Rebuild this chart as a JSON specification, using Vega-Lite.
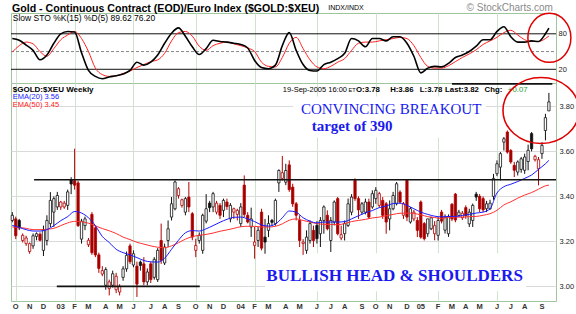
{
"$schema": "https://vega.github.io/schema/vega-lite/v6.json",
"padding": {"left": 8, "top": 2, "right": 0, "bottom": 0},
"background": "white",
"spacing": 0,
"bounds": "flush",
"config": {
  "view": {"stroke": "#9fc59f", "strokeWidth": 1},
  "scale": {"continuousPadding": 0},
  "axis": {"labelFont": "Liberation Sans", "labelFontSize": 7.5, "labelColor": "#222", "gridColor": "#cfe3cf", "gridWidth": 1, "domain": false, "ticks": false, "title": null, "minExtent": 0},
  "text": {"font": "Liberation Sans"}
},
"datasets": {
"months": [
{"date":"2002-10-07","lab":"O"},{"date":"2002-11-04","lab":"N"},{"date":"2002-12-02","lab":"D"},
{"date":"2003-01-06","lab":"03"},{"date":"2003-02-03","lab":"F"},{"date":"2003-03-03","lab":"M"},{"date":"2003-04-07","lab":"A"},{"date":"2003-05-05","lab":"M"},{"date":"2003-06-02","lab":"J"},{"date":"2003-07-07","lab":"J"},{"date":"2003-08-04","lab":"A"},{"date":"2003-09-01","lab":"S"},{"date":"2003-10-06","lab":"O"},{"date":"2003-11-03","lab":"N"},{"date":"2003-12-01","lab":"D"},
{"date":"2004-01-05","lab":"04"},{"date":"2004-02-02","lab":"F"},{"date":"2004-03-01","lab":"M"},{"date":"2004-04-05","lab":"A"},{"date":"2004-05-03","lab":"M"},{"date":"2004-06-07","lab":"J"},{"date":"2004-07-05","lab":"J"},{"date":"2004-08-02","lab":"A"},{"date":"2004-09-06","lab":"S"},{"date":"2004-10-04","lab":"O"},{"date":"2004-11-01","lab":"N"},{"date":"2004-12-06","lab":"D"},
{"date":"2005-01-03","lab":"05"},{"date":"2005-02-07","lab":"F"},{"date":"2005-03-07","lab":"M"},{"date":"2005-04-04","lab":"A"},{"date":"2005-05-02","lab":"M"},{"date":"2005-06-06","lab":"J"},{"date":"2005-07-04","lab":"J"},{"date":"2005-08-01","lab":"A"},{"date":"2005-09-05","lab":"S"}
],
"bars": [
{"date":"2002-09-30","o":3.293,"h":3.33,"l":3.285,"c":3.316},
{"date":"2002-10-07","o":3.3,"h":3.31,"l":3.21,"c":3.225},
{"date":"2002-10-14","o":3.293,"h":3.3,"l":3.25,"c":3.26},
{"date":"2002-10-21","o":3.204,"h":3.235,"l":3.195,"c":3.227},
{"date":"2002-10-28","o":3.19,"h":3.225,"l":3.18,"c":3.215},
{"date":"2002-11-04","o":3.155,"h":3.195,"l":3.145,"c":3.19},
{"date":"2002-11-11","o":3.18,"h":3.235,"l":3.167,"c":3.225},
{"date":"2002-11-18","o":3.222,"h":3.24,"l":3.205,"c":3.234},
{"date":"2002-11-25","o":3.232,"h":3.24,"l":3.2,"c":3.205},
{"date":"2002-12-02","o":3.16,"h":3.27,"l":3.135,"c":3.249},
{"date":"2002-12-09","o":3.204,"h":3.316,"l":3.182,"c":3.293},
{"date":"2002-12-16","o":3.279,"h":3.419,"l":3.263,"c":3.382},
{"date":"2002-12-23","o":3.33,"h":3.4,"l":3.264,"c":3.39},
{"date":"2002-12-30","o":3.353,"h":3.42,"l":3.34,"c":3.404},
{"date":"2003-01-06","o":3.353,"h":3.38,"l":3.34,"c":3.375},
{"date":"2003-01-13","o":3.353,"h":3.38,"l":3.345,"c":3.37},
{"date":"2003-01-20","o":3.36,"h":3.43,"l":3.34,"c":3.42},
{"date":"2003-01-27","o":3.475,"h":3.485,"l":3.41,"c":3.455},
{"date":"2003-02-03","o":3.47,"h":3.612,"l":3.43,"c":3.45},
{"date":"2003-02-10","o":3.46,"h":3.47,"l":3.264,"c":3.27},
{"date":"2003-02-17","o":3.21,"h":3.3,"l":3.19,"c":3.29},
{"date":"2003-02-24","o":3.27,"h":3.31,"l":3.25,"c":3.3},
{"date":"2003-03-03","o":3.185,"h":3.215,"l":3.175,"c":3.205},
{"date":"2003-03-10","o":3.32,"h":3.33,"l":3.14,"c":3.15},
{"date":"2003-03-17","o":3.26,"h":3.27,"l":3.13,"c":3.14},
{"date":"2003-03-24","o":3.14,"h":3.15,"l":3.06,"c":3.08},
{"date":"2003-03-31","o":3.055,"h":3.09,"l":3.045,"c":3.07},
{"date":"2003-04-07","o":3.005,"h":3.085,"l":2.985,"c":3.075},
{"date":"2003-04-14","o":2.99,"h":3.03,"l":2.96,"c":3.02},
{"date":"2003-04-21","o":3.005,"h":3.07,"l":2.995,"c":3.056},
{"date":"2003-04-28","o":2.985,"h":3.06,"l":2.97,"c":3.045},
{"date":"2003-05-05","o":2.975,"h":3.01,"l":2.96,"c":3.0},
{"date":"2003-05-12","o":3.04,"h":3.09,"l":3.025,"c":3.078},
{"date":"2003-05-19","o":3.078,"h":3.155,"l":3.065,"c":3.138},
{"date":"2003-05-26","o":3.18,"h":3.19,"l":3.1,"c":3.11},
{"date":"2003-06-02","o":3.095,"h":3.16,"l":3.085,"c":3.145},
{"date":"2003-06-09","o":3.09,"h":3.11,"l":2.953,"c":3.01},
{"date":"2003-06-16","o":3.108,"h":3.115,"l":3.07,"c":3.093},
{"date":"2003-06-23","o":3.1,"h":3.13,"l":3.005,"c":3.02},
{"date":"2003-06-30","o":3.02,"h":3.08,"l":3.005,"c":3.064},
{"date":"2003-07-07","o":3.1,"h":3.11,"l":3.015,"c":3.03},
{"date":"2003-07-14","o":3.04,"h":3.13,"l":3.03,"c":3.12},
{"date":"2003-07-21","o":3.03,"h":3.17,"l":3.02,"c":3.16},
{"date":"2003-07-28","o":3.204,"h":3.279,"l":3.1,"c":3.116},
{"date":"2003-08-04","o":3.104,"h":3.19,"l":3.095,"c":3.175},
{"date":"2003-08-11","o":3.204,"h":3.293,"l":3.175,"c":3.256},
{"date":"2003-08-18","o":3.308,"h":3.397,"l":3.293,"c":3.367},
{"date":"2003-08-25","o":3.345,"h":3.471,"l":3.338,"c":3.464},
{"date":"2003-09-01","o":3.404,"h":3.441,"l":3.39,"c":3.434},
{"date":"2003-09-08","o":3.36,"h":3.39,"l":3.35,"c":3.385},
{"date":"2003-09-15","o":3.33,"h":3.397,"l":3.316,"c":3.39},
{"date":"2003-09-22","o":3.397,"h":3.464,"l":3.33,"c":3.353},
{"date":"2003-09-29","o":3.323,"h":3.33,"l":3.205,"c":3.219},
{"date":"2003-10-06","o":3.16,"h":3.212,"l":3.13,"c":3.182},
{"date":"2003-10-13","o":3.204,"h":3.24,"l":3.19,"c":3.227},
{"date":"2003-10-20","o":3.16,"h":3.323,"l":3.145,"c":3.316},
{"date":"2003-10-27","o":3.29,"h":3.41,"l":3.28,"c":3.345},
{"date":"2003-11-03","o":3.37,"h":3.38,"l":3.33,"c":3.35},
{"date":"2003-11-10","o":3.353,"h":3.42,"l":3.33,"c":3.412},
{"date":"2003-11-17","o":3.33,"h":3.38,"l":3.32,"c":3.37},
{"date":"2003-11-24","o":3.36,"h":3.37,"l":3.3,"c":3.316},
{"date":"2003-12-01","o":3.338,"h":3.39,"l":3.308,"c":3.382},
{"date":"2003-12-08","o":3.375,"h":3.39,"l":3.34,"c":3.355},
{"date":"2003-12-15","o":3.3,"h":3.37,"l":3.285,"c":3.36},
{"date":"2003-12-22","o":3.33,"h":3.35,"l":3.3,"c":3.345},
{"date":"2003-12-29","o":3.32,"h":3.345,"l":3.293,"c":3.338},
{"date":"2004-01-05","o":3.279,"h":3.37,"l":3.264,"c":3.353},
{"date":"2004-01-12","o":3.45,"h":3.493,"l":3.308,"c":3.32},
{"date":"2004-01-19","o":3.316,"h":3.33,"l":3.28,"c":3.286},
{"date":"2004-01-26","o":3.264,"h":3.35,"l":3.22,"c":3.3},
{"date":"2004-02-02","o":3.182,"h":3.264,"l":3.123,"c":3.197},
{"date":"2004-02-09","o":3.204,"h":3.264,"l":3.175,"c":3.249},
{"date":"2004-02-16","o":3.33,"h":3.345,"l":3.16,"c":3.17},
{"date":"2004-02-23","o":3.219,"h":3.3,"l":3.145,"c":3.197},
{"date":"2004-03-01","o":3.249,"h":3.316,"l":3.219,"c":3.279},
{"date":"2004-03-08","o":3.293,"h":3.3,"l":3.27,"c":3.285},
{"date":"2004-03-15","o":3.279,"h":3.39,"l":3.27,"c":3.382},
{"date":"2004-03-22","o":3.46,"h":3.52,"l":3.42,"c":3.515},
{"date":"2004-03-29","o":3.48,"h":3.58,"l":3.47,"c":3.505},
{"date":"2004-04-05","o":3.463,"h":3.545,"l":3.45,"c":3.515},
{"date":"2004-04-12","o":3.54,"h":3.56,"l":3.42,"c":3.43},
{"date":"2004-04-19","o":3.441,"h":3.456,"l":3.353,"c":3.367},
{"date":"2004-04-26","o":3.367,"h":3.375,"l":3.293,"c":3.316},
{"date":"2004-05-03","o":3.293,"h":3.316,"l":3.175,"c":3.204},
{"date":"2004-05-10","o":3.19,"h":3.21,"l":3.14,"c":3.197},
{"date":"2004-05-17","o":3.16,"h":3.249,"l":3.145,"c":3.219},
{"date":"2004-05-24","o":3.204,"h":3.293,"l":3.19,"c":3.279},
{"date":"2004-05-31","o":3.249,"h":3.27,"l":3.175,"c":3.204},
{"date":"2004-06-07","o":3.271,"h":3.29,"l":3.19,"c":3.212},
{"date":"2004-06-14","o":3.234,"h":3.308,"l":3.175,"c":3.293},
{"date":"2004-06-21","o":3.293,"h":3.36,"l":3.234,"c":3.353},
{"date":"2004-06-28","o":3.316,"h":3.338,"l":3.249,"c":3.256},
{"date":"2004-07-05","o":3.204,"h":3.308,"l":3.153,"c":3.293},
{"date":"2004-07-12","o":3.286,"h":3.382,"l":3.271,"c":3.375},
{"date":"2004-07-19","o":3.39,"h":3.397,"l":3.227,"c":3.234},
{"date":"2004-07-26","o":3.215,"h":3.27,"l":3.205,"c":3.23},
{"date":"2004-08-02","o":3.234,"h":3.293,"l":3.204,"c":3.279},
{"date":"2004-08-09","o":3.271,"h":3.39,"l":3.264,"c":3.367},
{"date":"2004-08-16","o":3.33,"h":3.41,"l":3.316,"c":3.397},
{"date":"2004-08-23","o":3.471,"h":3.48,"l":3.38,"c":3.39},
{"date":"2004-08-30","o":3.39,"h":3.4,"l":3.3,"c":3.34},
{"date":"2004-09-06","o":3.33,"h":3.375,"l":3.32,"c":3.367},
{"date":"2004-09-13","o":3.33,"h":3.39,"l":3.32,"c":3.375},
{"date":"2004-09-20","o":3.375,"h":3.39,"l":3.3,"c":3.308},
{"date":"2004-09-27","o":3.353,"h":3.427,"l":3.345,"c":3.412},
{"date":"2004-10-04","o":3.39,"h":3.441,"l":3.367,"c":3.427},
{"date":"2004-10-11","o":3.36,"h":3.42,"l":3.35,"c":3.412},
{"date":"2004-10-18","o":3.382,"h":3.397,"l":3.3,"c":3.316},
{"date":"2004-10-25","o":3.367,"h":3.375,"l":3.234,"c":3.286},
{"date":"2004-11-01","o":3.3,"h":3.382,"l":3.249,"c":3.345},
{"date":"2004-11-08","o":3.345,"h":3.42,"l":3.338,"c":3.404},
{"date":"2004-11-15","o":3.367,"h":3.464,"l":3.36,"c":3.456},
{"date":"2004-11-22","o":3.419,"h":3.427,"l":3.367,"c":3.375},
{"date":"2004-11-29","o":3.316,"h":3.375,"l":3.3,"c":3.367},
{"date":"2004-12-06","o":3.471,"h":3.475,"l":3.29,"c":3.308},
{"date":"2004-12-13","o":3.286,"h":3.353,"l":3.279,"c":3.345},
{"date":"2004-12-20","o":3.3,"h":3.34,"l":3.29,"c":3.33},
{"date":"2004-12-27","o":3.293,"h":3.308,"l":3.219,"c":3.249},
{"date":"2005-01-03","o":3.375,"h":3.382,"l":3.212,"c":3.219},
{"date":"2005-01-10","o":3.279,"h":3.286,"l":3.204,"c":3.212},
{"date":"2005-01-17","o":3.234,"h":3.3,"l":3.22,"c":3.3},
{"date":"2005-01-24","o":3.256,"h":3.31,"l":3.25,"c":3.305},
{"date":"2005-01-31","o":3.234,"h":3.29,"l":3.205,"c":3.27},
{"date":"2005-02-07","o":3.227,"h":3.308,"l":3.204,"c":3.293},
{"date":"2005-02-14","o":3.33,"h":3.34,"l":3.28,"c":3.29},
{"date":"2005-02-21","o":3.25,"h":3.32,"l":3.235,"c":3.308},
{"date":"2005-02-28","o":3.234,"h":3.32,"l":3.22,"c":3.31},
{"date":"2005-03-07","o":3.365,"h":3.37,"l":3.29,"c":3.3},
{"date":"2005-03-14","o":3.41,"h":3.415,"l":3.285,"c":3.295},
{"date":"2005-03-21","o":3.315,"h":3.34,"l":3.31,"c":3.33},
{"date":"2005-03-28","o":3.305,"h":3.335,"l":3.295,"c":3.325},
{"date":"2005-04-04","o":3.35,"h":3.36,"l":3.3,"c":3.315},
{"date":"2005-04-11","o":3.278,"h":3.345,"l":3.264,"c":3.33},
{"date":"2005-04-18","o":3.293,"h":3.368,"l":3.264,"c":3.36},
{"date":"2005-04-25","o":3.41,"h":3.42,"l":3.38,"c":3.397},
{"date":"2005-05-02","o":3.4,"h":3.41,"l":3.33,"c":3.345},
{"date":"2005-05-09","o":3.39,"h":3.4,"l":3.33,"c":3.34},
{"date":"2005-05-16","o":3.345,"h":3.38,"l":3.33,"c":3.367},
{"date":"2005-05-23","o":3.345,"h":3.385,"l":3.34,"c":3.37},
{"date":"2005-05-30","o":3.4,"h":3.5,"l":3.385,"c":3.48},
{"date":"2005-06-06","o":3.501,"h":3.56,"l":3.49,"c":3.545},
{"date":"2005-06-13","o":3.53,"h":3.597,"l":3.471,"c":3.59},
{"date":"2005-06-20","o":3.641,"h":3.664,"l":3.604,"c":3.656},
{"date":"2005-06-27","o":3.686,"h":3.693,"l":3.59,"c":3.597},
{"date":"2005-07-04","o":3.604,"h":3.61,"l":3.545,"c":3.553},
{"date":"2005-07-11","o":3.538,"h":3.553,"l":3.486,"c":3.516},
{"date":"2005-07-18","o":3.508,"h":3.56,"l":3.493,"c":3.553},
{"date":"2005-07-25","o":3.52,"h":3.575,"l":3.505,"c":3.567},
{"date":"2005-08-01","o":3.516,"h":3.59,"l":3.5,"c":3.575},
{"date":"2005-08-08","o":3.555,"h":3.63,"l":3.516,"c":3.605},
{"date":"2005-08-15","o":3.679,"h":3.686,"l":3.6,"c":3.612},
{"date":"2005-08-22","o":3.563,"h":3.585,"l":3.555,"c":3.578},
{"date":"2005-08-29","o":3.523,"h":3.575,"l":3.449,"c":3.563},
{"date":"2005-09-05","o":3.59,"h":3.641,"l":3.567,"c":3.627},
{"date":"2005-09-12","o":3.693,"h":3.767,"l":3.649,"c":3.75},
{"date":"2005-09-19","o":3.78,"h":3.86,"l":3.78,"c":3.82}
],
"ind": [
{"date":"2002-09-30","ema20":3.271,"ema50":3.264,"k":72,"d":49},
{"date":"2002-10-14","ema20":3.262,"ema50":3.262,"k":69,"d":60},
{"date":"2002-10-28","ema20":3.252,"ema50":3.258,"k":61,"d":66},
{"date":"2002-11-11","ema20":3.246,"ema50":3.252,"k":52,"d":63},
{"date":"2002-11-25","ema20":3.246,"ema50":3.252,"k":36,"d":50},
{"date":"2002-12-09","ema20":3.252,"ema50":3.254,"k":44,"d":42},
{"date":"2002-12-23","ema20":3.27,"ema50":3.258,"k":64,"d":55},
{"date":"2003-01-06","ema20":3.292,"ema50":3.27,"k":80,"d":70},
{"date":"2003-01-20","ema20":3.31,"ema50":3.282,"k":84,"d":78},
{"date":"2003-02-03","ema20":3.333,"ema50":3.289,"k":83,"d":84},
{"date":"2003-02-17","ema20":3.326,"ema50":3.287,"k":48,"d":72},
{"date":"2003-03-03","ema20":3.305,"ema50":3.281,"k":18,"d":50},
{"date":"2003-03-17","ema20":3.27,"ema50":3.269,"k":8,"d":22},
{"date":"2003-03-31","ema20":3.222,"ema50":3.257,"k":4,"d":11},
{"date":"2003-04-14","ema20":3.195,"ema50":3.247,"k":7,"d":8},
{"date":"2003-04-28","ema20":3.165,"ema50":3.235,"k":9,"d":9},
{"date":"2003-05-12","ema20":3.15,"ema50":3.219,"k":12,"d":13},
{"date":"2003-05-26","ema20":3.14,"ema50":3.208,"k":18,"d":17},
{"date":"2003-06-09","ema20":3.128,"ema50":3.196,"k":32,"d":23},
{"date":"2003-06-23","ema20":3.115,"ema50":3.188,"k":27,"d":28},
{"date":"2003-07-07","ema20":3.109,"ema50":3.18,"k":32,"d":33},
{"date":"2003-07-21","ema20":3.108,"ema50":3.174,"k":44,"d":36},
{"date":"2003-08-04","ema20":3.125,"ema50":3.172,"k":64,"d":47},
{"date":"2003-08-18","ema20":3.165,"ema50":3.18,"k":81,"d":68},
{"date":"2003-09-01","ema20":3.205,"ema50":3.194,"k":90,"d":82},
{"date":"2003-09-15","ema20":3.238,"ema50":3.21,"k":76,"d":84},
{"date":"2003-09-29","ema20":3.248,"ema50":3.221,"k":58,"d":76},
{"date":"2003-10-13","ema20":3.246,"ema50":3.227,"k":45,"d":59},
{"date":"2003-10-27","ema20":3.256,"ema50":3.231,"k":55,"d":52},
{"date":"2003-11-10","ema20":3.27,"ema50":3.237,"k":69,"d":60},
{"date":"2003-11-24","ema20":3.285,"ema50":3.245,"k":67,"d":64},
{"date":"2003-12-08","ema20":3.298,"ema50":3.251,"k":66,"d":66},
{"date":"2003-12-22","ema20":3.307,"ema50":3.258,"k":64,"d":63},
{"date":"2004-01-05","ema20":3.308,"ema50":3.265,"k":62,"d":60},
{"date":"2004-01-19","ema20":3.3,"ema50":3.267,"k":56,"d":56},
{"date":"2004-02-02","ema20":3.288,"ema50":3.267,"k":35,"d":50},
{"date":"2004-02-16","ema20":3.273,"ema50":3.264,"k":23,"d":32},
{"date":"2004-03-01","ema20":3.268,"ema50":3.264,"k":21,"d":25},
{"date":"2004-03-15","ema20":3.277,"ema50":3.267,"k":27,"d":24},
{"date":"2004-03-29","ema20":3.305,"ema50":3.278,"k":60,"d":40},
{"date":"2004-04-12","ema20":3.335,"ema50":3.294,"k":82,"d":64},
{"date":"2004-04-26","ema20":3.33,"ema50":3.3,"k":52,"d":74},
{"date":"2004-05-10","ema20":3.305,"ema50":3.293,"k":28,"d":55},
{"date":"2004-05-24","ema20":3.29,"ema50":3.286,"k":18,"d":36},
{"date":"2004-06-07","ema20":3.282,"ema50":3.279,"k":17,"d":24},
{"date":"2004-06-21","ema20":3.286,"ema50":3.276,"k":28,"d":21},
{"date":"2004-07-05","ema20":3.286,"ema50":3.275,"k":32,"d":25},
{"date":"2004-07-19","ema20":3.286,"ema50":3.274,"k":38,"d":32},
{"date":"2004-08-02","ema20":3.288,"ema50":3.279,"k":47,"d":38},
{"date":"2004-08-16","ema20":3.3,"ema50":3.288,"k":72,"d":52},
{"date":"2004-08-30","ema20":3.314,"ema50":3.293,"k":68,"d":64},
{"date":"2004-09-13","ema20":3.327,"ema50":3.298,"k":58,"d":66},
{"date":"2004-09-27","ema20":3.337,"ema50":3.304,"k":72,"d":66},
{"date":"2004-10-11","ema20":3.35,"ema50":3.308,"k":72,"d":68},
{"date":"2004-10-25","ema20":3.357,"ema50":3.314,"k":68,"d":70},
{"date":"2004-11-08","ema20":3.368,"ema50":3.32,"k":75,"d":72},
{"date":"2004-11-22","ema20":3.37,"ema50":3.325,"k":75,"d":74},
{"date":"2004-12-06","ema20":3.36,"ema50":3.326,"k":64,"d":72},
{"date":"2004-12-20","ema20":3.345,"ema50":3.324,"k":42,"d":60},
{"date":"2005-01-03","ema20":3.33,"ema50":3.318,"k":14,"d":40},
{"date":"2005-01-17","ema20":3.32,"ema50":3.31,"k":22,"d":25},
{"date":"2005-01-31","ema20":3.312,"ema50":3.306,"k":25,"d":22},
{"date":"2005-02-14","ema20":3.309,"ema50":3.302,"k":24,"d":22},
{"date":"2005-02-28","ema20":3.311,"ema50":3.306,"k":30,"d":26},
{"date":"2005-03-14","ema20":3.311,"ema50":3.308,"k":40,"d":33},
{"date":"2005-03-28","ema20":3.315,"ema50":3.308,"k":44,"d":40},
{"date":"2005-04-11","ema20":3.32,"ema50":3.31,"k":50,"d":46},
{"date":"2005-04-25","ema20":3.326,"ema50":3.311,"k":59,"d":53},
{"date":"2005-05-09","ema20":3.33,"ema50":3.316,"k":70,"d":62},
{"date":"2005-05-23","ema20":3.345,"ema50":3.323,"k":70,"d":68},
{"date":"2005-06-06","ema20":3.415,"ema50":3.338,"k":84,"d":74},
{"date":"2005-06-20","ema20":3.443,"ema50":3.362,"k":92,"d":82},
{"date":"2005-07-04","ema20":3.454,"ema50":3.376,"k":75,"d":86},
{"date":"2005-07-18","ema20":3.466,"ema50":3.392,"k":66,"d":78},
{"date":"2005-08-01","ema20":3.48,"ema50":3.406,"k":66,"d":70},
{"date":"2005-08-15","ema20":3.495,"ema50":3.417,"k":68,"d":67},
{"date":"2005-08-29","ema20":3.52,"ema50":3.432,"k":67,"d":67},
{"date":"2005-09-12","ema20":3.545,"ema50":3.447,"k":80,"d":72},
{"date":"2005-09-19","ema20":3.56,"ema50":3.45,"k":89.62,"d":76.2}
]
},
"vconcat": [
{
  "width": 545, "height": 70,
  "layer": [
    {"data": {"values": [{"date": "2002-09-27T09:00:00Z", "date2": "2005-10-03T09:00:00Z", "v": 80}, {"date": "2002-09-27T09:00:00Z", "date2": "2005-10-03T09:00:00Z", "v": 20}]},
     "mark": {"type": "rule", "color": "#111", "strokeWidth": 1},
     "encoding": {
       "x": {"field": "date", "type": "temporal", "scale": {"type": "utc", "padding": 0, "domain": [{"year": 2002, "month": "sep", "date": 27, "hours": 9, "utc": true}, {"year": 2005, "month": "oct", "date": 3, "hours": 9, "utc": true}]},
             "axis": {"values": [
               {"year":2002,"month":"oct","date":7,"utc":true},{"year":2002,"month":"nov","date":4,"utc":true},{"year":2002,"month":"dec","date":2,"utc":true},
               {"year":2003,"month":"jan","date":6,"utc":true},{"year":2003,"month":"feb","date":3,"utc":true},{"year":2003,"month":"mar","date":3,"utc":true},{"year":2003,"month":"apr","date":7,"utc":true},{"year":2003,"month":"may","date":5,"utc":true},{"year":2003,"month":"jun","date":2,"utc":true},{"year":2003,"month":"jul","date":7,"utc":true},{"year":2003,"month":"aug","date":4,"utc":true},{"year":2003,"month":"sep","date":1,"utc":true},{"year":2003,"month":"oct","date":6,"utc":true},{"year":2003,"month":"nov","date":3,"utc":true},{"year":2003,"month":"dec","date":1,"utc":true},
               {"year":2004,"month":"jan","date":5,"utc":true},{"year":2004,"month":"feb","date":2,"utc":true},{"year":2004,"month":"mar","date":1,"utc":true},{"year":2004,"month":"apr","date":5,"utc":true},{"year":2004,"month":"may","date":3,"utc":true},{"year":2004,"month":"jun","date":7,"utc":true},{"year":2004,"month":"jul","date":5,"utc":true},{"year":2004,"month":"aug","date":2,"utc":true},{"year":2004,"month":"sep","date":6,"utc":true},{"year":2004,"month":"oct","date":4,"utc":true},{"year":2004,"month":"nov","date":1,"utc":true},{"year":2004,"month":"dec","date":6,"utc":true},
               {"year":2005,"month":"jan","date":3,"utc":true},{"year":2005,"month":"feb","date":7,"utc":true},{"year":2005,"month":"mar","date":7,"utc":true},{"year":2005,"month":"apr","date":4,"utc":true},{"year":2005,"month":"may","date":2,"utc":true},{"year":2005,"month":"jun","date":6,"utc":true},{"year":2005,"month":"jul","date":4,"utc":true},{"year":2005,"month":"aug","date":1,"utc":true},{"year":2005,"month":"sep","date":5,"utc":true}],
               "grid": true, "gridColor": "#cfe3cf", "labels": false, "ticks": false, "domain": false, "title": null}},
       "x2": {"field": "date2"},
       "y": {"field": "v", "type": "quantitative", "scale": {"domain": [-3.2, 115.2], "nice": false, "zero": false, "padding": 0},
             "axis": {"orient": "right", "values": [80, 50, 20], "grid": false, "labelPadding": 2, "labelFontSize": 7.5, "ticks": false, "domain": false, "title": null}}
     }},
    {"data": {"values": [{"date": "2002-09-27T09:00:00Z", "date2": "2005-10-03T09:00:00Z", "v": 50}]},
     "mark": {"type": "rule", "color": "#888", "strokeWidth": 1, "strokeDash": [3, 2]},
     "encoding": {
       "x": {"field": "date", "type": "temporal", "scale": {"type": "utc", "padding": 0, "domain": [{"year": 2002, "month": "sep", "date": 27, "hours": 9, "utc": true}, {"year": 2005, "month": "oct", "date": 3, "hours": 9, "utc": true}]}},
       "x2": {"field": "date2"},
       "y": {"field": "v", "type": "quantitative", "scale": {"domain": [-3.2, 115.2], "nice": false, "zero": false, "padding": 0}}
     }},
    {"data": {"name": "ind"},
     "mark": {"type": "line", "color": "#ff2020", "strokeWidth": 1, "interpolate": "monotone"},
     "encoding": {
       "x": {"field": "date", "type": "temporal", "scale": {"type": "utc", "padding": 0, "domain": [{"year": 2002, "month": "sep", "date": 27, "hours": 9, "utc": true}, {"year": 2005, "month": "oct", "date": 3, "hours": 9, "utc": true}]}},
       "y": {"field": "d", "type": "quantitative", "scale": {"domain": [-3.2, 115.2], "nice": false, "zero": false, "padding": 0}}
     }},
    {"data": {"name": "ind"},
     "mark": {"type": "line", "color": "#000", "strokeWidth": 1.6, "interpolate": "monotone"},
     "encoding": {
       "x": {"field": "date", "type": "temporal", "scale": {"type": "utc", "padding": 0, "domain": [{"year": 2002, "month": "sep", "date": 27, "hours": 9, "utc": true}, {"year": 2005, "month": "oct", "date": 3, "hours": 9, "utc": true}]}},
       "y": {"field": "k", "type": "quantitative", "scale": {"domain": [-3.2, 115.2], "nice": false, "zero": false, "padding": 0}}
     }},
    {"data": {"values": [{"date": "2002-09-29T09:00:00Z", "v": 116.8, "t": "Gold - Continuous Contract (EOD)/Euro Index ($GOLD:$XEU)"}]},
     "mark": {"type": "text", "align": "left", "baseline": "alphabetic", "font": "Liberation Sans", "fontSize": 10.6, "fontWeight": "bold", "color": "#000"},
     "encoding": {
       "x": {"field": "date", "type": "temporal", "scale": {"type": "utc", "padding": 0, "domain": [{"year": 2002, "month": "sep", "date": 27, "hours": 9, "utc": true}, {"year": 2005, "month": "oct", "date": 3, "hours": 9, "utc": true}]}},
       "y": {"field": "v", "type": "quantitative", "scale": {"domain": [-3.2, 115.2], "nice": false, "zero": false, "padding": 0}},
       "text": {"field": "t"}
     }},
    {"data": {"values": [{"date": "2002-10-01", "v": 107, "t": "Slow STO %K(15) %D(5) 89.62  76.20"}]},
     "mark": {"type": "text", "align": "left", "baseline": "middle", "font": "Liberation Sans", "fontSize": 8.5, "color": "#000"},
     "encoding": {
       "x": {"field": "date", "type": "temporal", "scale": {"type": "utc", "padding": 0, "domain": [{"year": 2002, "month": "sep", "date": 27, "hours": 9, "utc": true}, {"year": 2005, "month": "oct", "date": 3, "hours": 9, "utc": true}]}},
       "y": {"field": "v", "type": "quantitative", "scale": {"domain": [-3.2, 115.2], "nice": false, "zero": false, "padding": 0}},
       "text": {"field": "t"}
     }},
    {"data": {"values": [{"date": "2004-06-30", "v": 123.1, "t": "INDX/INDX"}]},
     "mark": {"type": "text", "align": "left", "baseline": "middle", "font": "Liberation Sans", "fontSize": 7, "color": "#000"},
     "encoding": {
       "x": {"field": "date", "type": "temporal", "scale": {"type": "utc", "padding": 0, "domain": [{"year": 2002, "month": "sep", "date": 27, "hours": 9, "utc": true}, {"year": 2005, "month": "oct", "date": 3, "hours": 9, "utc": true}]}},
       "y": {"field": "v", "type": "quantitative", "scale": {"domain": [-3.2, 115.2], "nice": false, "zero": false, "padding": 0}},
       "text": {"field": "t"}
     }},
    {"data": {"values": [{"date": "2005-09-27", "v": 124.3, "t": "© StockCharts.com"}]},
     "mark": {"type": "text", "align": "right", "baseline": "middle", "font": "Liberation Sans", "fontSize": 10, "color": "#8a8a8a"},
     "encoding": {
       "x": {"field": "date", "type": "temporal", "scale": {"type": "utc", "padding": 0, "domain": [{"year": 2002, "month": "sep", "date": 27, "hours": 9, "utc": true}, {"year": 2005, "month": "oct", "date": 3, "hours": 9, "utc": true}]}},
       "y": {"field": "v", "type": "quantitative", "scale": {"domain": [-3.2, 115.2], "nice": false, "zero": false, "padding": 0}},
       "text": {"field": "t"}
     }},
    {"data": {"values": [{"date": "2005-09-20", "v": 73.2}]},
     "mark": {"type": "point", "filled": false, "color": "#e00000", "strokeWidth": 1.5, "size": 2401, "opacity": 1,
              "shape": "M -0.878 0 C -0.878 -0.552 -0.485 -1 0 -1 C 0.485 -1 0.878 -0.552 0.878 0 C 0.878 0.552 0.485 1 0 1 C -0.485 1 -0.878 0.552 -0.878 0 Z"},
     "encoding": {
       "x": {"field": "date", "type": "temporal", "scale": {"type": "utc", "padding": 0, "domain": [{"year": 2002, "month": "sep", "date": 27, "hours": 9, "utc": true}, {"year": 2005, "month": "oct", "date": 3, "hours": 9, "utc": true}]}},
       "y": {"field": "v", "type": "quantitative", "scale": {"domain": [-3.2, 115.2], "nice": false, "zero": false, "padding": 0}}
     }}
  ]
},
{
  "width": 545, "height": 218,
  "layer": [
    {"data": {"values": [{"date": "2004-04-20", "date2": "2005-05-15", "v": 3.662, "v2": 3.844}, {"date": "2004-02-23", "date2": "2005-08-04", "v": 2.978, "v2": 3.147}]},
     "mark": {"type": "rect", "fill": "#ffffff"},
     "encoding": {
       "x": {"field": "date", "type": "temporal", "scale": {"type": "utc", "padding": 0, "domain": [{"year": 2002, "month": "sep", "date": 27, "hours": 9, "utc": true}, {"year": 2005, "month": "oct", "date": 3, "hours": 9, "utc": true}]},
             "axis": {"values": [
               {"year":2002,"month":"oct","date":7,"utc":true},{"year":2002,"month":"nov","date":4,"utc":true},{"year":2002,"month":"dec","date":2,"utc":true},
               {"year":2003,"month":"jan","date":6,"utc":true},{"year":2003,"month":"feb","date":3,"utc":true},{"year":2003,"month":"mar","date":3,"utc":true},{"year":2003,"month":"apr","date":7,"utc":true},{"year":2003,"month":"may","date":5,"utc":true},{"year":2003,"month":"jun","date":2,"utc":true},{"year":2003,"month":"jul","date":7,"utc":true},{"year":2003,"month":"aug","date":4,"utc":true},{"year":2003,"month":"sep","date":1,"utc":true},{"year":2003,"month":"oct","date":6,"utc":true},{"year":2003,"month":"nov","date":3,"utc":true},{"year":2003,"month":"dec","date":1,"utc":true},
               {"year":2004,"month":"jan","date":5,"utc":true},{"year":2004,"month":"feb","date":2,"utc":true},{"year":2004,"month":"mar","date":1,"utc":true},{"year":2004,"month":"apr","date":5,"utc":true},{"year":2004,"month":"may","date":3,"utc":true},{"year":2004,"month":"jun","date":7,"utc":true},{"year":2004,"month":"jul","date":5,"utc":true},{"year":2004,"month":"aug","date":2,"utc":true},{"year":2004,"month":"sep","date":6,"utc":true},{"year":2004,"month":"oct","date":4,"utc":true},{"year":2004,"month":"nov","date":1,"utc":true},{"year":2004,"month":"dec","date":6,"utc":true},
               {"year":2005,"month":"jan","date":3,"utc":true},{"year":2005,"month":"feb","date":7,"utc":true},{"year":2005,"month":"mar","date":7,"utc":true},{"year":2005,"month":"apr","date":4,"utc":true},{"year":2005,"month":"may","date":2,"utc":true},{"year":2005,"month":"jun","date":6,"utc":true},{"year":2005,"month":"jul","date":4,"utc":true},{"year":2005,"month":"aug","date":1,"utc":true},{"year":2005,"month":"sep","date":5,"utc":true}],
               "grid": true, "gridColor": "#cfe3cf", "labels": false, "ticks": false, "domain": false, "title": null}},
       "x2": {"field": "date2"},
       "y": {"field": "v", "type": "quantitative", "scale": {"domain": [2.935, 3.904], "nice": false, "zero": false, "padding": 0},
             "axis": {"orient": "right", "values": [3.0, 3.2, 3.4, 3.6, 3.8], "format": ".2f", "grid": true, "gridColor": "#dadada", "labelPadding": 3, "labelFontSize": 7.5, "ticks": false, "domain": false, "title": null}},
       "y2": {"field": "v2"}
     }},
    {"data": {"name": "bars"},
     "transform": [{"window": [{"op": "lag", "field": "c", "as": "pc"}], "sort": [{"field": "date", "order": "ascending"}]}],
     "layer": [
       {"mark": {"type": "rule", "strokeWidth": 1},
        "encoding": {
          "x": {"field": "date", "type": "temporal", "scale": {"type": "utc", "padding": 0, "domain": [{"year": 2002, "month": "sep", "date": 27, "hours": 9, "utc": true}, {"year": 2005, "month": "oct", "date": 3, "hours": 9, "utc": true}]}},
          "y": {"field": "l", "type": "quantitative", "scale": {"domain": [2.935, 3.904], "nice": false, "zero": false, "padding": 0}},
          "y2": {"field": "h"},
          "stroke": {"condition": {"test": "datum.c >= datum.pc", "value": "#111111"}, "value": "#b30000"}
        }},
       {"mark": {"type": "bar", "width": 2.3, "strokeWidth": 0.8},
        "encoding": {
          "x": {"field": "date", "type": "temporal", "scale": {"type": "utc", "padding": 0, "domain": [{"year": 2002, "month": "sep", "date": 27, "hours": 9, "utc": true}, {"year": 2005, "month": "oct", "date": 3, "hours": 9, "utc": true}]}},
          "y": {"field": "o", "type": "quantitative", "scale": {"domain": [2.935, 3.904], "nice": false, "zero": false, "padding": 0}},
          "y2": {"field": "c"},
          "stroke": {"condition": {"test": "datum.c >= datum.pc", "value": "#111111"}, "value": "#b30000"},
          "fill": {"condition": [{"test": "datum.c > datum.o", "value": "#ffffff"}, {"test": "datum.c >= datum.pc", "value": "#111111"}], "value": "#a00000"}
        }}
     ]},
    {"data": {"name": "ind"},
     "mark": {"type": "line", "color": "#ff3030", "strokeWidth": 1, "interpolate": "monotone"},
     "encoding": {
       "x": {"field": "date", "type": "temporal", "scale": {"type": "utc", "padding": 0, "domain": [{"year": 2002, "month": "sep", "date": 27, "hours": 9, "utc": true}, {"year": 2005, "month": "oct", "date": 3, "hours": 9, "utc": true}]}},
       "y": {"field": "ema50", "type": "quantitative", "scale": {"domain": [2.935, 3.904], "nice": false, "zero": false, "padding": 0}}
     }},
    {"data": {"name": "ind"},
     "mark": {"type": "line", "color": "#1a1aff", "strokeWidth": 1, "interpolate": "monotone"},
     "encoding": {
       "x": {"field": "date", "type": "temporal", "scale": {"type": "utc", "padding": 0, "domain": [{"year": 2002, "month": "sep", "date": 27, "hours": 9, "utc": true}, {"year": 2005, "month": "oct", "date": 3, "hours": 9, "utc": true}]}},
       "y": {"field": "ema20", "type": "quantitative", "scale": {"domain": [2.935, 3.904], "nice": false, "zero": false, "padding": 0}}
     }},
    {"data": {"values": [{"date": "2002-11-13", "date2": "2005-10-03T09:00:00Z", "v": 3.474}, {"date": "2002-12-29", "date2": "2003-10-14", "v": 3.0}, {"date": "2005-03-07", "date2": "2005-09-26", "v": 3.9}]},
     "mark": {"type": "rule", "color": "#111", "strokeWidth": 1.6},
     "encoding": {
       "x": {"field": "date", "type": "temporal", "scale": {"type": "utc", "padding": 0, "domain": [{"year": 2002, "month": "sep", "date": 27, "hours": 9, "utc": true}, {"year": 2005, "month": "oct", "date": 3, "hours": 9, "utc": true}]}},
       "x2": {"field": "date2"},
       "y": {"field": "v", "type": "quantitative", "scale": {"domain": [2.935, 3.904], "nice": false, "zero": false, "padding": 0}}
     }},
    {"data": {"name": "months"},
     "mark": {"type": "text", "align": "center", "baseline": "middle", "font": "Liberation Sans", "fontSize": 7.5, "fontWeight": "bold", "color": "#333"},
     "encoding": {
       "x": {"field": "date", "type": "temporal", "scale": {"type": "utc", "padding": 0, "domain": [{"year": 2002, "month": "sep", "date": 27, "hours": 9, "utc": true}, {"year": 2005, "month": "oct", "date": 3, "hours": 9, "utc": true}]}},
       "y": {"datum": 2.909, "type": "quantitative", "scale": {"domain": [2.935, 3.904], "nice": false, "zero": false, "padding": 0}},
       "text": {"field": "lab"}
     }},
    {"data": {"values": [{"date": "2002-10-01", "v": 3.874, "t": "$GOLD:$XEU Weekly"}]},
     "mark": {"type": "text", "align": "left", "baseline": "middle", "font": "Liberation Sans", "fontSize": 8, "fontWeight": "bold", "color": "#000"},
     "encoding": {
       "x": {"field": "date", "type": "temporal", "scale": {"type": "utc", "padding": 0, "domain": [{"year": 2002, "month": "sep", "date": 27, "hours": 9, "utc": true}, {"year": 2005, "month": "oct", "date": 3, "hours": 9, "utc": true}]}},
       "y": {"field": "v", "type": "quantitative", "scale": {"domain": [2.935, 3.904], "nice": false, "zero": false, "padding": 0}},
       "text": {"field": "t"}
     }},
    {"data": {"values": [{"date": "2002-10-01", "v": 3.84, "t": "EMA(20) 3.56"}]},
     "mark": {"type": "text", "align": "left", "baseline": "middle", "font": "Liberation Sans", "fontSize": 7.5, "color": "#1a1aff"},
     "encoding": {
       "x": {"field": "date", "type": "temporal", "scale": {"type": "utc", "padding": 0, "domain": [{"year": 2002, "month": "sep", "date": 27, "hours": 9, "utc": true}, {"year": 2005, "month": "oct", "date": 3, "hours": 9, "utc": true}]}},
       "y": {"field": "v", "type": "quantitative", "scale": {"domain": [2.935, 3.904], "nice": false, "zero": false, "padding": 0}},
       "text": {"field": "t"}
     }},
    {"data": {"values": [{"date": "2002-10-01", "v": 3.806, "t": "EMA(50) 3.45"}]},
     "mark": {"type": "text", "align": "left", "baseline": "middle", "font": "Liberation Sans", "fontSize": 7.5, "color": "#ff2020"},
     "encoding": {
       "x": {"field": "date", "type": "temporal", "scale": {"type": "utc", "padding": 0, "domain": [{"year": 2002, "month": "sep", "date": 27, "hours": 9, "utc": true}, {"year": 2005, "month": "oct", "date": 3, "hours": 9, "utc": true}]}},
       "y": {"field": "v", "type": "quantitative", "scale": {"domain": [2.935, 3.904], "nice": false, "zero": false, "padding": 0}},
       "text": {"field": "t"}
     }},
    {"data": {"values": [{"date": "2004-03-30", "v": 3.873, "t": "19-Sep-2005 16:00"}]},
     "mark": {"type": "text", "align": "left", "baseline": "middle", "font": "Liberation Sans", "fontSize": 7.5, "color": "#000"},
     "encoding": {
       "x": {"field": "date", "type": "temporal", "scale": {"type": "utc", "padding": 0, "domain": [{"year": 2002, "month": "sep", "date": 27, "hours": 9, "utc": true}, {"year": 2005, "month": "oct", "date": 3, "hours": 9, "utc": true}]}},
       "y": {"field": "v", "type": "quantitative", "scale": {"domain": [2.935, 3.904], "nice": false, "zero": false, "padding": 0}},
       "text": {"field": "t"}
     }},
    {"data": {"values": [{"date": "2004-08-10", "v": 3.871, "t": "ET"}]},
     "mark": {"type": "text", "align": "left", "baseline": "middle", "font": "Liberation Sans", "fontSize": 5.5, "color": "#000"},
     "encoding": {
       "x": {"field": "date", "type": "temporal", "scale": {"type": "utc", "padding": 0, "domain": [{"year": 2002, "month": "sep", "date": 27, "hours": 9, "utc": true}, {"year": 2005, "month": "oct", "date": 3, "hours": 9, "utc": true}]}},
       "y": {"field": "v", "type": "quantitative", "scale": {"domain": [2.935, 3.904], "nice": false, "zero": false, "padding": 0}},
       "text": {"field": "t"}
     }},
    {"data": {"values": [
       {"date": "2004-08-25", "v": 3.873, "t": "O:3.78"},
       {"date": "2004-11-02", "v": 3.873, "t": "H:3.86"},
       {"date": "2005-01-01", "v": 3.873, "t": "L:3.78"},
       {"date": "2005-02-21", "v": 3.873, "t": "Last:3.82"},
       {"date": "2005-05-12", "v": 3.873, "t": "Chg:"}]},
     "mark": {"type": "text", "align": "left", "baseline": "middle", "font": "Liberation Sans", "fontSize": 7.8, "fontWeight": "bold", "color": "#000"},
     "encoding": {
       "x": {"field": "date", "type": "temporal", "scale": {"type": "utc", "padding": 0, "domain": [{"year": 2002, "month": "sep", "date": 27, "hours": 9, "utc": true}, {"year": 2005, "month": "oct", "date": 3, "hours": 9, "utc": true}]}},
       "y": {"field": "v", "type": "quantitative", "scale": {"domain": [2.935, 3.904], "nice": false, "zero": false, "padding": 0}},
       "text": {"field": "t"}
     }},
    {"data": {"values": [{"date": "2005-06-28", "v": 3.873, "t": "+0.07"}]},
     "mark": {"type": "text", "align": "left", "baseline": "middle", "font": "Liberation Sans", "fontSize": 7.8, "color": "#1f9a1f"},
     "encoding": {
       "x": {"field": "date", "type": "temporal", "scale": {"type": "utc", "padding": 0, "domain": [{"year": 2002, "month": "sep", "date": 27, "hours": 9, "utc": true}, {"year": 2005, "month": "oct", "date": 3, "hours": 9, "utc": true}]}},
       "y": {"field": "v", "type": "quantitative", "scale": {"domain": [2.935, 3.904], "nice": false, "zero": false, "padding": 0}},
       "text": {"field": "t"}
     }},
    {"data": {"values": [{"date": "2004-11-04", "v": 3.764, "t": "CONVINCING BREAKOUT"}]},
     "mark": {"type": "text", "align": "center", "baseline": "alphabetic", "font": "Liberation Serif", "fontSize": 15, "color": "#1a1aee"},
     "encoding": {
       "x": {"field": "date", "type": "temporal", "scale": {"type": "utc", "padding": 0, "domain": [{"year": 2002, "month": "sep", "date": 27, "hours": 9, "utc": true}, {"year": 2005, "month": "oct", "date": 3, "hours": 9, "utc": true}]}},
       "y": {"field": "v", "type": "quantitative", "scale": {"domain": [2.935, 3.904], "nice": false, "zero": false, "padding": 0}},
       "text": {"field": "t"}
     }},
    {"data": {"values": [{"date": "2004-08-17", "v": 3.689, "t": "target of 390"}]},
     "mark": {"type": "text", "align": "center", "baseline": "alphabetic", "font": "Liberation Serif", "fontSize": 15, "fontWeight": "bold", "color": "#1a1aee"},
     "encoding": {
       "x": {"field": "date", "type": "temporal", "scale": {"type": "utc", "padding": 0, "domain": [{"year": 2002, "month": "sep", "date": 27, "hours": 9, "utc": true}, {"year": 2005, "month": "oct", "date": 3, "hours": 9, "utc": true}]}},
       "y": {"field": "v", "type": "quantitative", "scale": {"domain": [2.935, 3.904], "nice": false, "zero": false, "padding": 0}},
       "text": {"field": "t"}
     }},
    {"data": {"values": [{"date": "2004-11-11", "v": 3.022, "t": "BULLISH HEAD & SHOULDERS"}]},
     "mark": {"type": "text", "align": "center", "baseline": "alphabetic", "font": "Liberation Serif", "fontSize": 17, "fontWeight": "bold", "color": "#1a1aee"},
     "encoding": {
       "x": {"field": "date", "type": "temporal", "scale": {"type": "utc", "padding": 0, "domain": [{"year": 2002, "month": "sep", "date": 27, "hours": 9, "utc": true}, {"year": 2005, "month": "oct", "date": 3, "hours": 9, "utc": true}]}},
       "y": {"field": "v", "type": "quantitative", "scale": {"domain": [2.935, 3.904], "nice": false, "zero": false, "padding": 0}},
       "text": {"field": "t"}
     }},
    {"data": {"values": [{"date": "2005-09-03", "v": 3.782}]},
     "mark": {"type": "point", "filled": false, "color": "#e00000", "strokeWidth": 1.6, "size": 5776, "opacity": 1,
              "shape": "M -1 0 C -1 -0.479 -0.552 -0.868 0 -0.868 C 0.552 -0.868 1 -0.479 1 0 C 1 0.479 0.552 0.868 0 0.868 C -0.552 0.868 -1 0.479 -1 0 Z"},
     "encoding": {
       "x": {"field": "date", "type": "temporal", "scale": {"type": "utc", "padding": 0, "domain": [{"year": 2002, "month": "sep", "date": 27, "hours": 9, "utc": true}, {"year": 2005, "month": "oct", "date": 3, "hours": 9, "utc": true}]}},
       "y": {"field": "v", "type": "quantitative", "scale": {"domain": [2.935, 3.904], "nice": false, "zero": false, "padding": 0}}
     }}
  ]
}
]
}
